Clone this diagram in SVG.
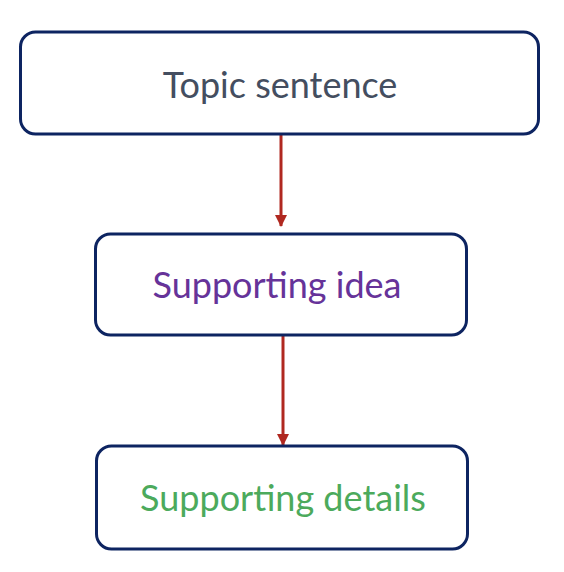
<svg xmlns="http://www.w3.org/2000/svg" width="564" height="572" viewBox="0 0 564 572">
<defs>
<style>
.box{fill:#ffffff;stroke:#0d2461;stroke-width:3}
.lbl{font-family:"Lato","Open Sans",sans-serif;font-size:36px;text-anchor:middle}
.edge{stroke:#b02820;stroke-width:3;fill:none}
</style>
<marker id="ah" markerWidth="12" markerHeight="12" refX="11" refY="6" orient="auto" markerUnits="userSpaceOnUse">
<path d="M0,0 L12,6 L0,12 Z" fill="#b02820"/>
</marker>
</defs>
<rect width="564" height="572" fill="#ffffff"/>
<g id="connectors">
<line class="edge" x1="281" y1="135" x2="281" y2="226" marker-end="url(#ah)"/>
<line class="edge" x1="283" y1="336" x2="283" y2="445" marker-end="url(#ah)"/>
</g>
<g id="topic">
<rect class="box" x="20.5" y="32" width="518" height="102" rx="15"/>
<text class="lbl" x="280" y="98" fill="#444e60">Topic sentence</text>
</g>
<g id="idea">
<rect class="box" x="95.5" y="234" width="371" height="101" rx="15"/>
<text class="lbl" x="277" y="298" fill="#663399">Supporting idea</text>
</g>
<g id="details">
<rect class="box" x="96.5" y="446" width="371" height="103" rx="15"/>
<text class="lbl" x="283" y="511" fill="#4caa5c">Supporting details</text>
</g>
</svg>
